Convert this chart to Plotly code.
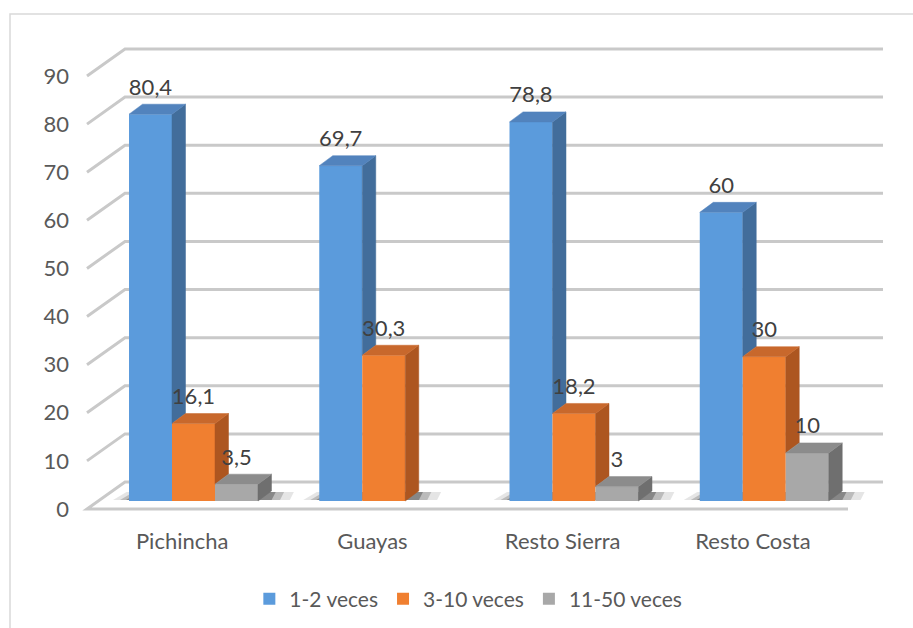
import plotly.graph_objects as go

# ---------------- data ----------------
categories = ["Pichincha", "Guayas", "Resto Sierra", "Resto Costa"]
series_names = ["1-2 veces", "3-10 veces", "11-50 veces"]
vals_12 = [80.4, 69.7, 78.8, 60]
vals_310 = [16.1, 30.3, 18.2, 30]
vals_1150 = [3.5, None, 3, 10]
y_ticks = [0, 10, 20, 30, 40, 50, 60, 70, 80, 90]

series_vals = [vals_12, vals_310, vals_1150]

# ---------------- styles ----------------
front_colors = ["#5b9bdc", "#f07f30", "#a8a8a8"]
side_colors = ["#426d9b", "#ad5620", "#6f6f6f"]
top_colors = ["#5283bd", "#c8682c", "#8c8c8c"]
FONT = "Lato"
TXT = "#595959"
GRID = "#c9c9c9"

# geometry (pixel scale -> axis units)
PX_CAT = 190.25           # px per category
PX_VAL = 4.811            # px per value unit
ML, MR, MT, MB = 78, 8, 20, 108
W, H = 913, 628
PLOT_W = W - ML - MR
PLOT_H = H - MT - MB
X_START = -(193.5 - ML) / PX_CAT
Y_START = -(MT + PLOT_H - 501) / PX_VAL
x_range = [X_START, X_START + PLOT_W / PX_CAT]
y_range = [Y_START, Y_START + PLOT_H / PX_VAL]

def ux(px):
    return px / PX_CAT

def uy(px):
    return px / PX_VAL

BAR_W = 0.226
BARGAP = 1 - 3 * BAR_W
BAR_DX, BAR_DY = ux(13.5), uy(10)          # bar depth
FR_DX, FR_DY = ux(-11.3), uy(-8)           # front plane offset
BK_DX, BK_DY = ux(26.7), uy(19)            # back wall offset
X_LEFT_FRONT = ux(87 - ML) + X_START
X_RIGHT_BACK = ux(883 - ML) + X_START
X_RIGHT_FRONT = ux(848 - ML) + X_START

fig = go.Figure()

# front faces
for s in range(3):
    fig.add_trace(go.Bar(
        x=list(range(len(categories))), y=series_vals[s], name=series_names[s],
        marker=dict(color=front_colors[s], line=dict(width=0)),
        hoverinfo="skip",
    ))

# side and top faces
for s in range(3):
    sx, sy, tx, ty = [], [], [], []
    for c in range(len(categories)):
        v = series_vals[s][c]
        if v is None:
            continue
        xl = c + (s - 1) * BAR_W - BAR_W / 2
        xr = xl + BAR_W
        nxt = series_vals[s + 1][c] if s + 1 < 3 else None
        bottom = nxt if nxt is not None else 0
        if bottom < v:
            sx += [xr, xr, xr + BAR_DX, xr + BAR_DX, xr, None]
            sy += [bottom, v, v + BAR_DY, bottom + BAR_DY, bottom, None]
        tx += [xl, xl + BAR_DX, xr + BAR_DX, xr, xl, None]
        ty += [v, v + BAR_DY, v + BAR_DY, v, v, None]
    fig.add_trace(go.Scatter(x=sx, y=sy, mode="lines", fill="toself",
                             fillcolor=side_colors[s],
                             line=dict(color=side_colors[s], width=0.5),
                             showlegend=False, hoverinfo="skip"))
    fig.add_trace(go.Scatter(x=tx, y=ty, mode="lines", fill="toself",
                             fillcolor=top_colors[s],
                             line=dict(color=top_colors[s], width=0.5),
                             showlegend=False, hoverinfo="skip"))

# data labels
lx, ly, lt = [], [], []
for s in range(3):
    for c in range(len(categories)):
        v = series_vals[s][c]
        if v is None:
            continue
        lx.append(c + (s - 1) * BAR_W)
        ly.append(v + uy(25))
        lt.append(f"{v:g}".replace(".", ","))
fig.add_trace(go.Scatter(x=lx, y=ly, text=lt, mode="text",
                         textfont=dict(family=FONT, size=22, color="#404040"),
                         showlegend=False, hoverinfo="skip"))

shapes = []
# gridlines / walls
for t in y_ticks:
    fx, fy = X_LEFT_FRONT, t + FR_DY
    bx, by = X_LEFT_FRONT - FR_DX + BK_DX, t + BK_DY
    if t == 0:
        path = (f"M{X_RIGHT_FRONT},{fy} L{fx},{fy} L{bx},{by} L{X_RIGHT_BACK},{by}")
    else:
        path = f"M{fx},{fy} L{bx},{by} L{X_RIGHT_BACK},{by}"
    shapes.append(dict(type="path", path=path, xref="x", yref="y",
                       line=dict(color=GRID, width=3), layer="below"))

# soft floor shadows beneath each group of bars
for c in range(len(categories)):
    present = [s for s in range(3) if series_vals[s][c] is not None]
    gl = c + (present[0] - 1) * BAR_W - BAR_W / 2
    gr = c + (present[-1] - 1) * BAR_W + BAR_W / 2
    for grow, alpha in ((ux(16), 0.10), (ux(9), 0.18), (ux(3), 0.28)):
        x0 = gl - grow
        x1 = gr + BAR_DX + grow * 1.4
        y0, y1 = uy(1), BAR_DY * 0.9
        path = (f"M{x0},{y0} L{x0 + BAR_DX},{y1} L{x1},{y1} L{x1 - BAR_DX * 0.3},{y0} Z")
        shapes.append(dict(type="path", path=path, xref="x", yref="y",
                           fillcolor=f"rgba(0,0,0,{alpha})",
                           line=dict(width=0), layer="below"))

# outer chart border
shapes.append(dict(type="path", xref="paper", yref="paper",
                   path=f"M{(10-ML)/PLOT_W},-0.3 L{(10-ML)/PLOT_W},{1+6/PLOT_H} L1.1,{1+6/PLOT_H}",
                   line=dict(color="#d9d9d9", width=1.5), layer="above"))

fig.update_layout(
    width=W, height=H,
    margin=dict(l=ML, r=MR, t=MT, b=MB),
    paper_bgcolor="white", plot_bgcolor="white",
    barmode="group", bargap=BARGAP, bargroupgap=0,
    shapes=shapes,
    font=dict(family=FONT, size=22, color=TXT),
    xaxis=dict(range=x_range, showgrid=False, zeroline=False, showline=False,
               tickvals=[c + FR_DX for c in range(len(categories))],
               ticktext=categories, ticks="", ticklabelstandoff=6,
               tickfont=dict(family=FONT, size=22, color=TXT), fixedrange=True),
    yaxis=dict(range=y_range, showgrid=False, zeroline=False, showline=False,
               tickvals=[t + FR_DY for t in y_ticks],
               ticktext=[str(t) for t in y_ticks], ticks="", ticklabelstandoff=8,
               tickfont=dict(family=FONT, size=22, color=TXT), fixedrange=True),
    legend=dict(orientation="h", x=0.472, xanchor="center", y=-0.158,
                yanchor="middle", font=dict(family=FONT, size=21, color=TXT),
                traceorder="normal"),
    showlegend=True,
)

fig.write_html("out.html")
